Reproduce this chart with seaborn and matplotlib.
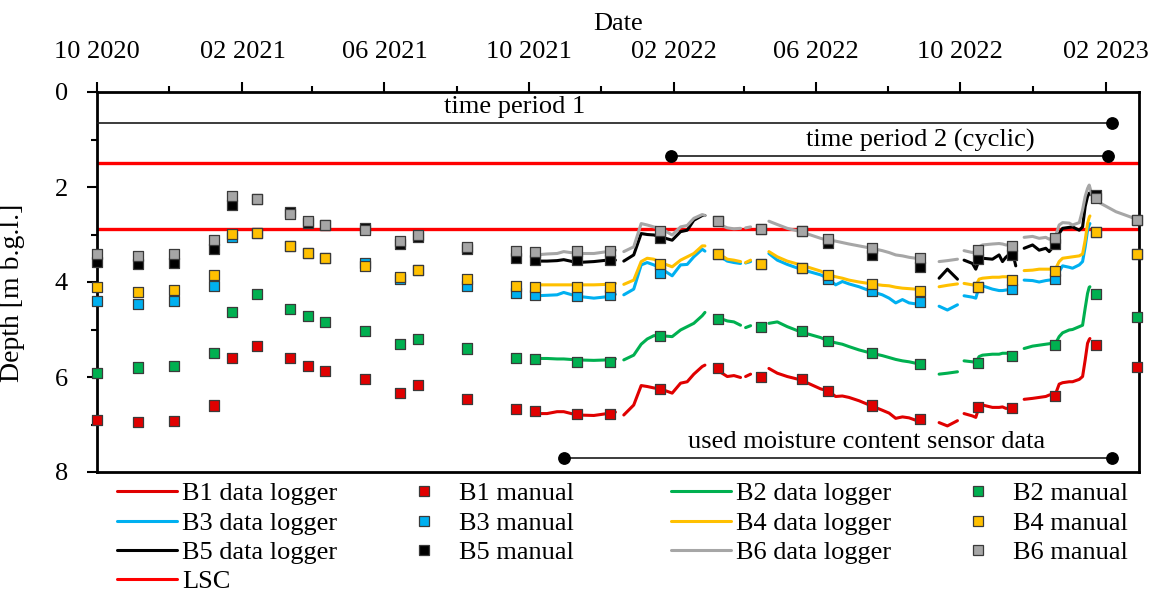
import numpy as np
import pandas as pd
import matplotlib
matplotlib.use("Agg")
import matplotlib.pyplot as plt
import matplotlib.dates as mdates
from matplotlib.lines import Line2D
from matplotlib.ticker import MultipleLocator
import seaborn as sns

# ---------------- data ----------------
series = ["B1", "B2", "B3", "B4", "B5", "B6"]
colors = {"B1": "#E00000", "B2": "#00B050", "B3": "#00B0F0",
          "B4": "#FFC000", "B5": "#000000", "B6": "#A6A6A6"}

manual_dates = ["2020-10-01", "2020-11-05", "2020-12-05", "2021-01-08", "2021-01-23",
                "2021-02-13", "2021-03-13", "2021-03-28", "2021-04-12", "2021-05-16",
                "2021-06-14", "2021-06-29", "2021-08-10", "2021-09-20", "2021-10-06",
                "2021-11-11", "2021-12-09", "2022-01-20", "2022-03-10", "2022-04-15",
                "2022-05-20", "2022-06-11", "2022-07-18", "2022-08-28", "2022-10-16",
                "2022-11-14", "2022-12-20", "2023-01-24", "2023-02-27"]
manual_B1 = [6.91, 6.95, 6.92, 6.60, 5.61, 5.35, 5.61, 5.76, 5.88, 6.05, 6.33, 6.16, 6.47, 6.68, 6.71,
             6.77, 6.77, 6.26, 5.82, 5.99, 6.04, 6.29, 6.60, 6.88, 6.63, 6.65, 6.40, 5.32, 5.79]
manual_B2 = [5.91, 5.80, 5.76, 5.50, 4.64, 4.26, 4.56, 4.72, 4.84, 5.03, 5.30, 5.19, 5.40, 5.59, 5.63,
             5.68, 5.69, 5.14, 4.77, 4.95, 5.03, 5.24, 5.50, 5.73, 5.71, 5.56, 5.33, 4.25, 4.74]
manual_B3 = [4.39, 4.46, 4.41, 4.08, 3.06, 2.97, 3.25, 3.39, 3.49, 3.60, 3.93, 3.75, 4.08, 4.24, 4.28,
             4.29, 4.28, 3.80, 3.41, 3.62, 3.70, 3.93, 4.19, 4.43, 4.10, 4.15, 3.94, 2.95, 3.41]
manual_B4 = [4.11, 4.22, 4.16, 3.85, 2.98, 2.97, 3.25, 3.39, 3.49, 3.66, 3.89, 3.75, 3.94, 4.08, 4.10,
             4.10, 4.10, 3.62, 3.41, 3.62, 3.70, 3.85, 4.04, 4.19, 4.10, 3.96, 3.77, 2.95, 3.41]
manual_B5 = [3.57, 3.63, 3.60, 3.31, 2.38, 2.25, 2.53, 2.75, 2.79, 2.87, 3.20, 3.06, 3.30, 3.50, 3.54,
             3.54, 3.54, 3.08, 2.71, 2.88, 2.92, 3.18, 3.43, 3.68, 3.52, 3.43, 3.19, 2.17, 2.69]
manual_B6 = [3.42, 3.45, 3.41, 3.12, 2.19, 2.25, 2.56, 2.71, 2.79, 2.91, 3.14, 3.02, 3.26, 3.35, 3.37,
             3.35, 3.35, 2.92, 2.71, 2.88, 2.92, 3.09, 3.29, 3.49, 3.33, 3.24, 3.08, 2.24, 2.69]

# data logger records: days since logger_origin, segment id (gaps between segments)
logger_origin = "2020-10-01"
logger_segment = ([1] * 8 + [2] * 12 + [3] * 4 + [4] * 2 + [5] * 18 + [6] * 3 + [7] * 11 + [8] * 20)
logger_day = [370.7, 380.5, 389.0, 394.6, 405.9, 420.1, 431.4, 438.3,
              445.4, 453.8, 460.1, 465.2, 470.8, 476.4, 486.3, 493.4, 499.0, 504.6, 511.7, 514.0,
              527.2, 532.9, 538.5, 544.1,
              548.4, 552.6,
              568.1, 575.2, 583.6, 594.9, 611.8, 618.0, 624.5, 630.2, 635.8, 644.3, 655.0, 664.0,
              669.7, 675.3, 681.0, 686.6, 692.2, 696.5,
              712.0, 719.0, 727.5,
              733.1, 740.2, 743.0, 745.8, 748.7, 757.1, 762.7, 765.6, 768.4, 774.0, 776.8,
              783.9, 791.0, 796.6, 802.2, 805.1, 810.7, 813.5, 816.4, 822.0, 824.8, 830.5, 833.3,
              835.5, 837.5, 838.9, 839.5, 841.2, 844.6, 861.5, 879.3]
nan = np.nan
logger_B1 = [6.77, 6.77, 6.73, 6.73, 6.80, 6.81, 6.77, 6.74,
             6.80, 6.59, 6.18, 6.20, 6.23, 6.25, 6.34, 6.13, 6.10, 5.94, 5.78, 5.75,
             5.90, 5.99, 5.97, 6.01,
             5.99, 5.94,
             5.82, 5.92, 5.99, 6.06, 6.25, 6.29, 6.41, 6.40, 6.43, 6.50, 6.61, 6.70, 6.76, 6.87, 6.84, 6.86, 6.91, 6.92,
             6.96, 7.03, 6.92,
             6.77, 6.82, 6.85, 6.63, 6.59, 6.64, 6.64, 6.63, 6.66, 6.66, 6.66,
             6.47, 6.45, 6.43, 6.41, 6.38, 6.34, 6.15, 6.12, 6.10, 6.10, 6.05, 5.99, 5.64, 5.29, 5.21, 5.19,
             nan, nan, nan, nan]
logger_B2 = [5.61, 5.61, 5.62, 5.62, 5.64, 5.65, 5.64, 5.62,
             5.64, 5.54, 5.31, 5.20, 5.13, 5.13, 5.15, 5.01, 4.94, 4.87, 4.71, 4.64,
             4.77, 4.82, 4.84, 4.91,
             4.96, 4.92,
             4.87, 4.84, 4.94, 5.05, 5.17, 5.24, 5.28, 5.31, 5.36, 5.43, 5.50, 5.55, 5.59, 5.63, 5.66, 5.68, 5.71, 5.73,
             5.94, 5.92, 5.89,
             5.66, 5.68, 5.70, 5.57, 5.54, 5.52, 5.52, 5.50, 5.50, 5.50, 5.49,
             5.40, 5.35, 5.33, 5.31, 5.30, 5.28, 5.15, 5.07, 5.01, 5.00, 4.94, 4.91, 4.55, 4.24, 4.11, 4.10,
             nan, nan, nan, nan]
logger_B3 = [4.29, 4.28, 4.27, 4.22, 4.30, 4.34, 4.31, 4.26,
             4.27, 4.15, 3.64, 3.59, 3.64, 3.71, 3.87, 3.64, 3.63, 3.47, 3.31, 3.35,
             3.47, 3.56, 3.59, 3.61,
             3.60, 3.57,
             3.40, 3.54, 3.63, 3.73, 3.85, 3.92, 4.06, 3.99, 4.04, 4.10, 4.20, 4.27, 4.34, 4.44, 4.37, 4.44, 4.46, 4.48,
             4.51, 4.59, 4.48,
             4.29, 4.32, 4.34, 4.10, 4.08, 4.15, 4.18, 4.18, 4.17, 4.15, 4.15,
             3.96, 3.97, 4.00, 3.97, 3.96, 3.94, 3.78, 3.66, 3.69, 3.71, 3.64, 3.57, 3.26, 2.91, 2.80, 2.77,
             nan, nan, nan, nan]
logger_B4 = [4.06, 4.06, 4.06, 4.06, 4.06, 4.06, 4.05, 4.03,
             4.05, 3.96, 3.57, 3.50, 3.52, 3.59, 3.68, 3.54, 3.47, 3.40, 3.24, 3.24,
             3.43, 3.52, 3.54, 3.57,
             3.59, 3.54,
             3.36, 3.47, 3.56, 3.64, 3.77, 3.85, 3.89, 3.92, 3.96, 4.00, 4.04, 4.07, 4.08, 4.11, 4.13, 4.14, 4.15, 4.17,
             4.10, 4.07, 4.04,
             4.03, 4.06, 4.08, 3.94, 3.92, 3.90, 3.90, 3.89, 3.89, 3.89, 3.89,
             3.76, 3.75, 3.73, 3.73, 3.73, 3.71, 3.57, 3.50, 3.48, 3.47, 3.45, 3.41, 3.12, 2.77, 2.64, 2.61,
             nan, nan, nan, nan]
logger_B5 = [3.56, 3.56, 3.55, 3.53, 3.59, 3.57, 3.54, 3.54,
             3.56, 3.43, 2.98, 3.00, 3.01, 3.05, 3.12, 2.94, 2.91, 2.70, 2.60, 2.60,
             nan, nan, nan, nan,
             nan, nan,
             nan, nan, nan, nan, nan, nan, nan, nan, nan, nan, nan, nan, nan, nan, nan, nan, nan, nan,
             3.92, 3.73, 3.94,
             3.54, 3.61, 3.73, 3.54, 3.50, 3.52, 3.43, 3.57, 3.48, 3.36, 3.66,
             3.29, 3.22, 3.33, 3.29, 3.36, 3.19, 2.98, 2.87, 2.85, 2.84, 2.91, 2.84, 2.41, 2.20, 2.13, 2.13,
             2.17, nan, nan, nan]
logger_B6 = [3.43, 3.41, 3.40, 3.36, 3.40, 3.40, 3.36, 3.33,
             3.36, 3.26, 2.77, 2.80, 2.84, 2.87, 3.01, 2.84, 2.81, 2.66, 2.58, 2.60,
             2.80, 2.86, 2.88, 2.87,
             2.86, 2.84,
             2.72, 2.79, 2.87, 2.94, 3.08, 3.12, 3.14, 3.17, 3.20, 3.24, 3.29, 3.34, 3.38, 3.43, 3.45, 3.48, 3.50, 3.50,
             3.57, 3.55, 3.52,
             3.34, 3.38, 3.34, 3.26, 3.22, 3.20, 3.19, 3.20, 3.22, 3.22, 3.22,
             3.06, 3.04, 3.08, 3.06, 3.10, 3.01, 2.80, 2.75, 2.76, 2.80, 2.75, 2.48, 2.20, 2.03, 1.96, 2.01,
             2.17, 2.29, 2.52, 2.68]

lsc_depths = [1.5, 2.89]

period_labels = ["time period 1", "time period 2 (cyclic)", "used moisture content sensor data"]
period_start = ["2020-10-01", "2022-01-29", "2021-10-31"]
period_end = ["2023-02-06", "2023-02-03", "2023-02-06"]
period_depth = [0.65, 1.35, 7.70]
period_start_dot = [False, True, True]
period_label_date = ["2021-09-19", "2022-08-28", "2022-07-14"]
period_label_depth = [0.44, 1.15, 7.50]

x_limits = ["2020-10-01", "2023-03-01"]

# ---------------- frames ----------------
manual_vals = {"B1": manual_B1, "B2": manual_B2, "B3": manual_B3,
               "B4": manual_B4, "B5": manual_B5, "B6": manual_B6}
logger_vals = {"B1": logger_B1, "B2": logger_B2, "B3": logger_B3,
               "B4": logger_B4, "B5": logger_B5, "B6": logger_B6}

mdf = pd.concat([pd.DataFrame({"date": pd.to_datetime(manual_dates),
                               "depth": manual_vals[s], "series": s}) for s in series],
                ignore_index=True)
ldates = pd.Timestamp(logger_origin) + pd.to_timedelta(logger_day, unit="D")
ldf = pd.concat([pd.DataFrame({"date": ldates, "depth": logger_vals[s], "series": s,
                               "segment": logger_segment}) for s in series],
                ignore_index=True).dropna()

# ---------------- style ----------------
sns.set_style("white")
plt.rcParams["font.family"] = ["Liberation Serif", "DejaVu Serif"]
plt.rcParams["font.size"] = 19
plt.rcParams["text.color"] = "black"
plt.rcParams["axes.labelcolor"] = "black"
plt.rcParams["xtick.color"] = "black"
plt.rcParams["ytick.color"] = "black"

fig = plt.figure(figsize=(11.58, 5.95), dpi=100)
ax = fig.add_axes([97 / 1158, 1 - 472 / 595, 1042 / 1158, 380 / 595])

# LSC lines
for d in lsc_depths:
    ax.axhline(d, color="#FF0000", lw=2.4, zorder=2)

# logger lines
sns.lineplot(data=ldf, x="date", y="depth", hue="series", hue_order=series,
             units="segment", estimator=None, sort=False, palette=colors,
             lw=2.2, legend=False, ax=ax, zorder=3)

# period annotations
for lab, s, e, d, sd, ld, ldep in zip(period_labels, period_start, period_end, period_depth,
                                      period_start_dot, period_label_date, period_label_depth):
    xs = pd.to_datetime([s, e])
    ax.plot(xs, [d, d], color="#1a1a1a", lw=1.2, zorder=4)
    dots = [1] if not sd else [0, 1]
    ax.plot(xs[dots], [d] * len(dots), ls="none", marker="o", ms=8.2,
            color="black", zorder=6)
    ax.text(pd.Timestamp(ld), ldep, lab, ha="center", va="baseline", fontsize=19, zorder=6)

# manual points
sns.scatterplot(data=mdf, x="date", y="depth", hue="series", hue_order=series,
                palette=colors, marker="s", s=52, edgecolor="#3a3a3a", linewidth=0.9,
                legend=False, ax=ax, zorder=5, clip_on=False)

# ---------------- axes ----------------
ax.set_xlim(pd.Timestamp(x_limits[0]), pd.Timestamp(x_limits[1]))
ax.set_ylim(8, 0)
ax.xaxis.set_major_locator(mdates.MonthLocator(bymonth=[2, 6, 10]))
ax.xaxis.set_minor_locator(mdates.MonthLocator(bymonth=[4, 8, 12]))
ax.xaxis.set_major_formatter(mdates.DateFormatter("%m %Y"))
ax.yaxis.set_major_locator(MultipleLocator(2))
ax.yaxis.set_minor_locator(MultipleLocator(1))
ax.xaxis.tick_top()
ax.xaxis.set_label_position("top")
ax.tick_params(axis="x", which="major", top=True, bottom=False, labeltop=True,
               labelbottom=False, length=7, width=1.5, pad=14, labelsize=19, direction="out")
ax.tick_params(axis="x", which="minor", top=True, bottom=False, length=4.3, width=1.5,
               direction="out")
ax.tick_params(axis="y", which="major", left=True, length=7, width=1.5, pad=14,
               labelsize=19, direction="out")
ax.tick_params(axis="y", which="minor", left=True, length=4.3, width=1.5, direction="out")
for sp in ax.spines.values():
    sp.set_visible(True)
    sp.set_color("black")
    sp.set_linewidth(2.0)
ax.set_xlabel("Date", fontsize=19, labelpad=8)
ax.set_ylabel("Depth [m b.g.l.]", fontsize=20)
ax.yaxis.set_label_coords(-0.069, 0.471)
ax.grid(False)

# ---------------- legend (4 equal-width columns) ----------------
def line_h(c):
    return Line2D([], [], color=c, lw=2.2)

def mark_h(c):
    return Line2D([], [], ls="none", marker="s", ms=6.5, markerfacecolor=c,
                  markeredgecolor="#3a3a3a", markeredgewidth=0.9)

columns = [
    ([line_h(colors["B1"]), line_h(colors["B3"]), line_h(colors["B5"]), line_h("#FF0000")],
     ["B1 data logger", "B3 data logger", "B5 data logger", "LSC"]),
    ([mark_h(colors["B1"]), mark_h(colors["B3"]), mark_h(colors["B5"])],
     ["B1 manual", "B3 manual", "B5 manual"]),
    ([line_h(colors["B2"]), line_h(colors["B4"]), line_h(colors["B6"])],
     ["B2 data logger", "B4 data logger", "B6 data logger"]),
    ([mark_h(colors["B2"]), mark_h(colors["B4"]), mark_h(colors["B6"])],
     ["B2 manual", "B4 manual", "B6 manual"]),
]
col_x = [117, 394, 671, 948]
for (handles, labels), cx in zip(columns, col_x):
    fig.legend(handles, labels, loc="upper left", bbox_to_anchor=(cx / 1158, 1 - 482 / 595),
               frameon=False, borderpad=0, borderaxespad=0, handlelength=2.27,
               handletextpad=0.19, labelspacing=0.22, fontsize=19)

fig.savefig("out.png", dpi=100)
